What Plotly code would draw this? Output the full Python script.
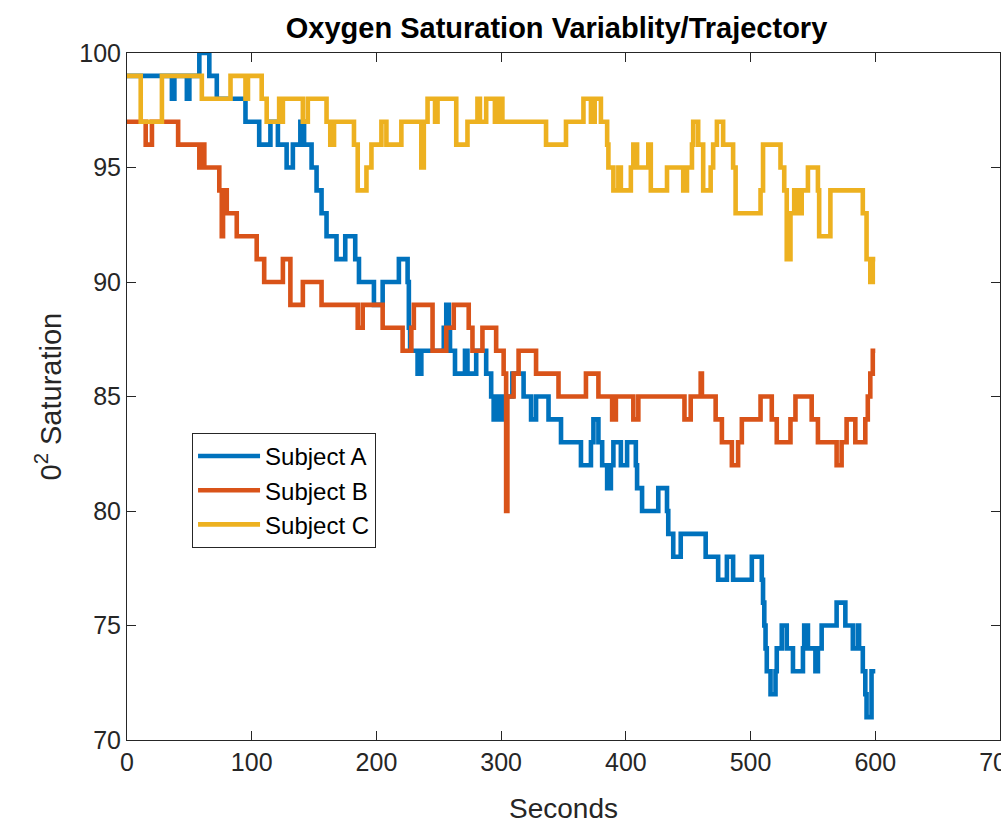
import plotly.graph_objects as go

# Subject A (change points: seconds, O2 saturation)
a_t = [0, 36, 38, 48, 50, 58, 66, 72, 95, 106, 115, 121, 128, 133, 139, 142, 148, 152, 156, 160,
       168, 175, 183, 186, 198, 205, 218, 225, 226, 227, 233, 236, 254, 256, 258, 259, 263, 271,
       273, 280, 288, 292, 294, 297, 299, 301, 309, 318, 324, 328, 338, 348, 364, 372, 374, 378,
       381, 385, 388, 390, 396, 401, 408, 409, 413, 426, 433, 434, 438, 444, 464, 474, 481, 486,
       501, 509, 510, 511, 512, 513, 516, 520, 521, 525, 529, 534, 542, 543, 546, 552, 554, 557,
       569, 576, 582, 586, 587, 590, 592, 593, 597, 600]
a_v = [99, 98, 99, 98, 99, 100, 99, 98, 97, 96, 97, 96, 95, 96, 97, 96, 95, 94, 93, 92,
       91, 92, 91, 90, 89, 90, 91, 90, 88, 87, 86, 87, 88, 89, 88, 87, 86, 87,
       86, 87, 86, 85, 84, 85, 84, 85, 86, 85, 84, 85, 84, 83, 82, 83, 84, 83,
       82, 81, 82, 83, 82, 83, 82, 81, 80, 81, 80, 79, 78, 79, 78, 77, 78, 77,
       78, 77, 76, 75, 74, 73, 72, 73, 74, 75, 74, 73, 74, 75, 74, 73, 74, 75,
       76, 75, 74, 75, 74, 73, 72, 71, 73, 73]

# Subject B
b_t = [0, 15, 20, 41, 58, 60, 62, 74, 76, 77, 80, 88, 104, 110, 125, 131, 141, 156, 185, 189,
       205, 221, 228, 230, 245, 256, 262, 274, 277, 285, 296, 302, 304, 305, 310, 314, 328, 346,
       368, 378, 389, 392, 406, 410, 447, 452, 460, 461, 472, 477, 485, 490, 493, 508, 517, 521,
       532, 536, 549, 554, 569, 573, 577, 584, 592, 594, 596, 598, 600]
b_v = [97, 96, 97, 96, 95, 96, 95, 94, 92, 94, 93, 92, 91, 90, 91, 89, 90, 89, 88, 89,
       88, 87, 88, 89, 87, 88, 89, 88, 87, 88, 87, 86, 80, 85, 86, 87, 86, 85,
       86, 85, 84, 85, 84, 85, 84, 85, 86, 85, 84, 83, 82, 83, 84, 85, 84, 83,
       84, 85, 84, 83, 82, 83, 84, 83, 84, 85, 86, 87, 87]

# Subject C
c_t = [0, 11, 28, 60, 83, 95, 97, 108, 112, 122, 123, 125, 141, 145, 160, 163, 166, 182, 185, 192,
       196, 204, 208, 220, 236, 238, 241, 247, 249, 264, 273, 281, 283, 288, 295, 298, 301, 336,
       352, 366, 372, 375, 380, 385, 386, 390, 394, 396, 404, 406, 409, 418, 420, 433, 446, 449,
       453, 454, 458, 462, 468, 470, 473, 478, 486, 488, 508, 510, 524, 527, 529, 532, 535, 538,
       541, 546, 554, 555, 564, 590, 593, 596, 598, 600]
c_v = [99, 97, 99, 98, 99, 98, 99, 98, 97, 98, 97, 98, 97, 98, 97, 96, 97, 96, 94, 95,
       96, 97, 96, 97, 95, 97, 98, 97, 98, 96, 97, 98, 97, 98, 97, 98, 97, 96,
       97, 98, 97, 98, 97, 96, 95, 94, 95, 94, 95, 96, 95, 96, 94, 95, 94, 95,
       96, 97, 96, 94, 95, 96, 97, 96, 95, 93, 94, 96, 95, 94, 91, 93, 94, 93,
       94, 95, 94, 92, 94, 93, 91, 90, 91, 91]

names = ["Subject A", "Subject B", "Subject C"]
colors = ["#0072BD", "#D95319", "#EDB120"]
x_ticks = [0, 100, 200, 300, 400, 500, 600, 700]
y_ticks = [70, 75, 80, 85, 90, 95, 100]

FONT = "Liberation Sans, Arial, Helvetica, sans-serif"

fig = go.Figure()
for t, v, n, c in zip([a_t, b_t, c_t], [a_v, b_v, c_v], names, colors):
    fig.add_trace(go.Scatter(x=t, y=v, mode="lines", name=n,
                             line=dict(color=c, width=4.6, shape="hv")))

axis_common = dict(showgrid=False, zeroline=False, showline=True, linecolor="#262626",
                   linewidth=1, ticks="inside", ticklen=9, tickcolor="#262626",
                   mirror="ticks", ticklabeloverflow="allow", automargin=False,
                   tickfont=dict(size=25, color="#262626", family=FONT))
fig.update_xaxes(range=[0, 700], tickvals=x_ticks, ticktext=[str(v) for v in x_ticks], **axis_common)
fig.update_yaxes(range=[70, 100], tickvals=y_ticks, ticktext=[str(v) for v in y_ticks], **axis_common)

W, H = 1001, 826
fig.update_layout(
    width=W, height=H,
    margin=dict(l=127, r=1, t=53, b=86, autoexpand=False),
    paper_bgcolor="white", plot_bgcolor="white",
    font=dict(family=FONT, color="#262626"),
    title=dict(text="<b>Oxygen Saturation Variablity/Trajectory</b>", x=0.492, xref="paper",
               xanchor="center", y=1 - 28 / H, yref="container", yanchor="middle",
               font=dict(size=29, color="black", family=FONT)),
    showlegend=True,
    legend=dict(x=0.0745, y=0.447, xanchor="left", yanchor="top",
                bordercolor="#262626", borderwidth=1, bgcolor="white",
                font=dict(size=24, color="black", family=FONT), tracegroupgap=0,
                itemwidth=62),
    annotations=[
        dict(text="Seconds", xref="paper", yref="paper", x=0.5, y=-0.099,
             showarrow=False, font=dict(size=28, color="#262626", family=FONT),
             yanchor="middle"),
        dict(text="0<sup>2</sup> Saturation", xref="paper", yref="paper", x=-0.0905, y=0.5,
             showarrow=False, textangle=-90, font=dict(size=29, color="#262626", family=FONT),
             xanchor="center", yanchor="middle"),
    ],
)

# remove the default page margin so the 1001x826 figure fills the window exactly
fig.write_html("out.html", config={"displayModeBar": False},
               post_script="document.body.style.margin='0';"
                           "document.body.style.overflow='hidden';")
